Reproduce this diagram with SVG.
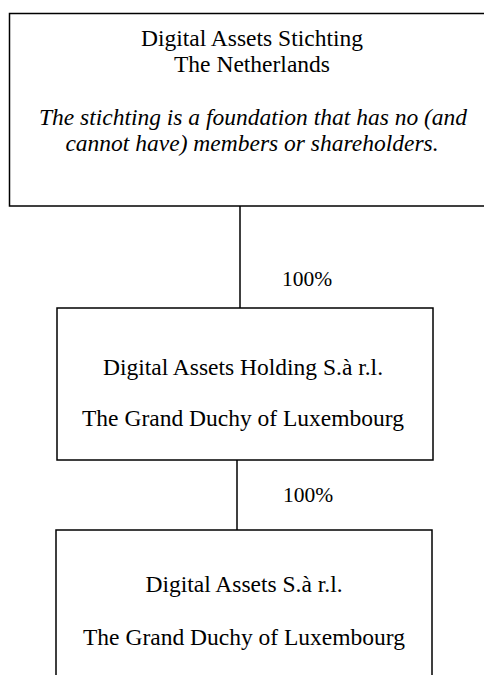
<svg xmlns="http://www.w3.org/2000/svg" width="484" height="675" viewBox="0 0 484 675">
<style>
.box{fill:#fff;stroke:#000;stroke-width:1.5}
.conn{stroke:#000;stroke-width:1.5;fill:none}
.t{font-family:"Liberation Serif","Times New Roman",serif;font-size:23.5px;fill:#000;text-anchor:middle}
.it{font-style:italic}
.pct{font-family:"Liberation Serif","Times New Roman",serif;font-size:21.5px;fill:#000;text-anchor:middle}
</style>
<rect width="484" height="675" fill="#fff"/>
<g id="connectors">
<line class="conn" x1="240" y1="206" x2="240" y2="308"/>
<line class="conn" x1="237" y1="460" x2="237" y2="530"/>
<text class="pct" x="307" y="286">100%</text>
<text class="pct" x="308" y="502">100%</text>
</g>
<g id="stichting">
<rect class="box" x="9.5" y="13.5" width="490" height="192.5"/>
<text class="t" x="252" y="46">Digital Assets Stichting</text>
<text class="t" x="252" y="72">The Netherlands</text>
<text class="t it" x="253" y="125">The stichting is a foundation that has no (and</text>
<text class="t it" x="252" y="151">cannot have) members or shareholders.</text>
</g>
<g id="holding">
<rect class="box" x="57" y="308" width="376" height="152"/>
<text class="t" x="243" y="375">Digital Assets Holding S.à r.l.</text>
<text class="t" x="243" y="426">The Grand Duchy of Luxembourg</text>
</g>
<g id="sarl">
<rect class="box" x="56" y="530" width="376" height="160"/>
<text class="t" x="244" y="592">Digital Assets S.à r.l.</text>
<text class="t" x="244" y="645">The Grand Duchy of Luxembourg</text>
</g>
</svg>
